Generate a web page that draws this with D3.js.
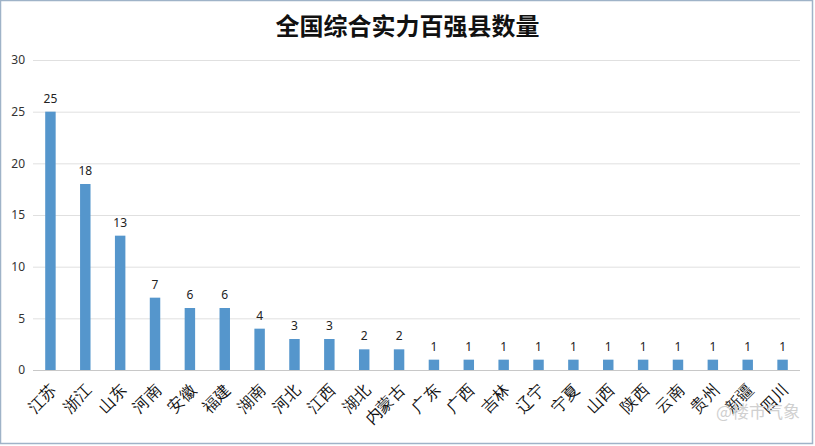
<!DOCTYPE html>
<html lang="zh">
<head>
<meta charset="UTF-8">
<title>全国综合实力百强县数量</title>
<style>
  body { margin: 0; padding: 0; background: #fff; }
  svg { display: block; font-family: "Noto Sans CJK SC", "Microsoft YaHei", sans-serif; }
</style>
</head>
<body>
<script src="https://d3js.org/d3.v7.min.js"></script>
<script>
// 省份
const provinces = ['江苏', '浙江', '山东', '河南', '安徽', '福建', '湖南', '河北', '江西', '湖北', '内蒙古',
  '广东', '广西', '吉林', '辽宁', '宁夏', '山西', '陕西', '云南', '贵州', '新疆', '四川'];
// 百强县数量
const counts = [25, 18, 13, 7, 6, 6, 4, 3, 3, 2, 2, 1, 1, 1, 1, 1, 1, 1, 1, 1, 1, 1];
// y轴刻度
const yTicks = [0, 5, 10, 15, 20, 25, 30];

const width = 815, height = 446;
const margin = { top: 60, right: 15, bottom: 76, left: 33 };

const svg = d3.select('body').append('svg')
  .attr('width', width)
  .attr('height', height);

// 外框
svg.append('rect')
  .attr('x', 0.5).attr('y', 0.5)
  .attr('width', width - 3).attr('height', height - 3)
  .attr('fill', 'none')
  .attr('stroke', '#9fb3c8')
  .attr('stroke-width', 1.5);

// 标题
svg.append('text')
  .attr('x', width / 2)
  .attr('y', 35)
  .attr('text-anchor', 'middle')
  .attr('font-size', 24)
  .attr('font-weight', 'bold')
  .attr('fill', '#111')
  .text('全国综合实力百强县数量');

const x = d3.scaleBand()
  .domain(provinces)
  .range([margin.left, width - margin.right])
  .paddingInner(0.7)
  .paddingOuter(0.35);

const y = d3.scaleLinear()
  .domain([0, 30])
  .range([height - margin.bottom, margin.top]);

// 网格线
svg.append('g')
  .selectAll('line')
  .data(yTicks)
  .join('line')
  .attr('x1', margin.left)
  .attr('x2', width - margin.right)
  .attr('y1', d => y(d) + 0.5)
  .attr('y2', d => y(d) + 0.5)
  .attr('stroke', d => d === 0 ? '#c8c8c8' : '#e0e0e0')
  .attr('stroke-width', 1);

// y轴
const yAxis = svg.append('g')
  .attr('transform', `translate(${margin.left},0)`)
  .call(d3.axisLeft(y).tickValues(yTicks).tickSize(0).tickPadding(8));
yAxis.select('.domain').remove();
yAxis.selectAll('text')
  .attr('font-size', 12)
  .attr('fill', '#333')
  .attr('font-family', '"Noto Sans", sans-serif');

// 柱子
svg.append('g')
  .selectAll('rect')
  .data(provinces)
  .join('rect')
  .attr('x', d => x(d))
  .attr('y', (d, i) => y(counts[i]))
  .attr('width', x.bandwidth())
  .attr('height', (d, i) => y(0) - y(counts[i]))
  .attr('fill', '#5596cc');

// 数值标签
svg.append('g')
  .selectAll('text')
  .data(provinces)
  .join('text')
  .attr('x', d => x(d) + x.bandwidth() / 2)
  .attr('y', (d, i) => y(counts[i]) - 9)
  .attr('text-anchor', 'middle')
  .attr('font-size', 12)
  .attr('fill', '#222')
  .attr('font-family', '"Noto Sans", sans-serif')
  .text((d, i) => counts[i]);

// x轴标签，旋转45度
const xAxis = svg.append('g')
  .attr('transform', `translate(0,${y(0)})`)
  .call(d3.axisBottom(x).tickSize(0).tickPadding(0));
xAxis.select('.domain').remove();
xAxis.selectAll('text')
  .attr('font-size', 16)
  .attr('fill', '#111')
  .attr('text-anchor', 'end')
  .attr('dy', 0)
  .attr('transform', 'translate(7,21) rotate(-45)');

// 水印
svg.append('text')
  .attr('x', 800)
  .attr('y', 418)
  .attr('text-anchor', 'end')
  .attr('font-size', 17)
  .attr('fill', '#d0d0d0')
  .text('@楼市气象');
</script>
</body>
</html>
